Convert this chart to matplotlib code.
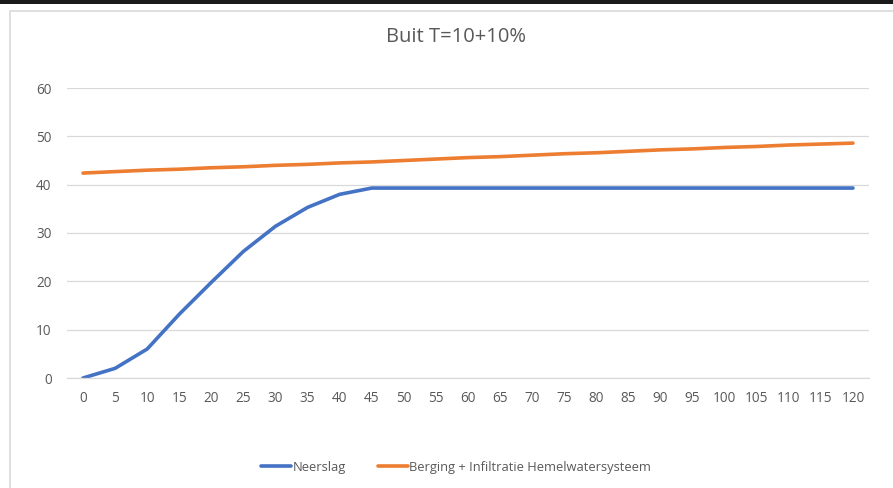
import matplotlib
matplotlib.use("Agg")
import matplotlib.pyplot as plt
from matplotlib.patches import Rectangle

plt.rcParams['font.family'] = ['Open Sans', 'DejaVu Sans']

minutes = [0, 5, 10, 15, 20, 25, 30, 35, 40, 45, 50, 55, 60, 65, 70, 75, 80, 85, 90, 95, 100, 105, 110, 115, 120]
neerslag = [0, 2, 6, 13.2, 19.8, 26.2, 31.4, 35.3, 38.0, 39.3, 39.3, 39.3, 39.3, 39.3, 39.3, 39.3, 39.3, 39.3, 39.3, 39.3, 39.3, 39.3, 39.3, 39.3, 39.3]
berging = [42.4, 42.7, 43.0, 43.2, 43.5, 43.7, 44.0, 44.2, 44.5, 44.7, 45.0, 45.3, 45.6, 45.8, 46.1, 46.4, 46.6, 46.9, 47.2, 47.4, 47.7, 47.9, 48.2, 48.4, 48.6]
yticks = [0, 10, 20, 30, 40, 50, 60]
title = "Buit T=10+10%"
labels = ["Neerslag", "Berging + Infiltratie Hemelwatersysteem"]

W, H = 893, 488
fig = plt.figure(figsize=(W / 100, H / 100), dpi=100)
fig.patch.set_facecolor("white")

# spreadsheet top band and chart border
fig.add_artist(Rectangle((0, 1 - 4 / H), 1, 4 / H, transform=fig.transFigure,
                         facecolor="#1a1a1a", edgecolor="none"))
fig.add_artist(Rectangle((9.5 / W, -0.05), 1.2, 1 - 10.5 / H + 0.05, transform=fig.transFigure,
                         facecolor="none", edgecolor="#d9d9d9", linewidth=1.2))

left, right = 67 / W, 869 / W
bottom, top = 1 - 378 / H, 1 - 88 / H
ax = fig.add_axes([left, bottom, right - left, top - bottom])

x = list(range(len(minutes)))
l1, = ax.plot(x, neerslag, color="#4472C4", linewidth=2.6, solid_capstyle="round")
l2, = ax.plot(x, berging, color="#ED7D31", linewidth=2.6, solid_capstyle="round")

ax.set_xlim(-0.5, len(minutes) - 0.5)
ax.set_ylim(0, 60)
ax.set_yticks(yticks)
ax.set_xticks(x)
ax.set_xticklabels([str(m) for m in minutes])
ax.grid(axis="y", color="#d9d9d9", linewidth=0.9)
ax.set_axisbelow(True)
for s in ["top", "right", "left"]:
    ax.spines[s].set_visible(False)
ax.spines["bottom"].set_color("#d9d9d9")
ax.spines["bottom"].set_linewidth(0.9)
ax.tick_params(axis="both", length=0, colors="#595959", labelsize=9.8)
ax.tick_params(axis="x", pad=9)
ax.tick_params(axis="y", pad=11)

fig.text(456 / W, 1 - 37 / H, title, ha="center", va="center", fontsize=14.5, color="#595959")

fig.legend([l1, l2], labels, loc="center", bbox_to_anchor=(456 / W, 1 - 467 / H),
           ncol=2, frameon=False, fontsize=9.3, handlelength=2.3, handletextpad=0.1,
           columnspacing=2.5, labelcolor="#595959")

fig.savefig("out.png", dpi=100)
